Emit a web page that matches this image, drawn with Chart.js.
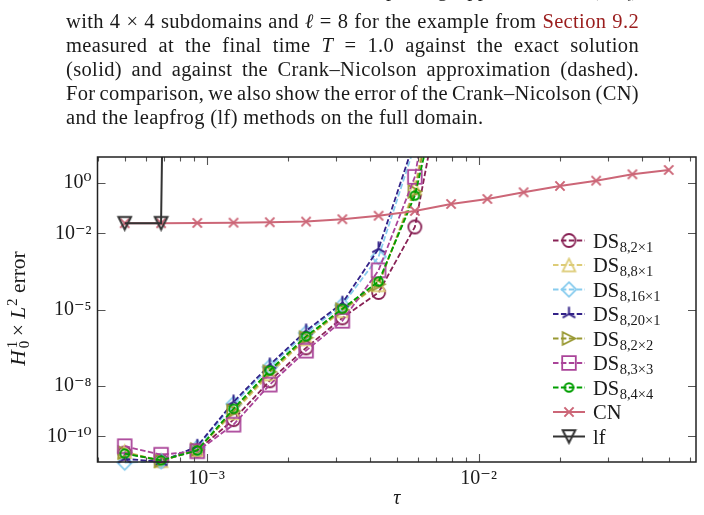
<!DOCTYPE html>
<html><head><meta charset="utf-8">
<script src="https://cdn.jsdelivr.net/npm/chart.js@4.4.1/dist/chart.umd.min.js"></script>
<style>
html,body{margin:0;padding:0;background:#fff;overflow:hidden;}
#wrap{position:relative;width:704px;height:515px;overflow:hidden;background:#fff;}
#c{position:absolute;left:0;top:0;}
#cap{position:absolute;left:66px;top:-23px;width:573px;font-family:"Liberation Serif","DejaVu Serif",serif;font-size:20.5px;letter-spacing:0.35px;line-height:24px;color:#1a1a1a;z-index:2;}
#cap div{white-space:nowrap;}
#cap .red{color:#9a1c1c;}
#cap i{font-style:italic;}
#cap span.ln{display:inline-block;}
</style>
</head><body>
<div id="wrap">
<canvas id="c" width="704" height="515"></canvas>
<div id="cap">
<div class="j"><span class="ln">FIGURE 4. Errors of the domain splitting approximation (DS<sub style="font-size:12px">ℓ</sub>)</span></div>
<div class="j"><span class="ln">with 4 × 4 subdomains and <i>ℓ</i> = 8 for the example from <span class="red">Section 9.2</span></span></div>
<div class="j"><span class="ln">measured at the final time <i>T</i> = 1.0 against the exact solution</span></div>
<div class="j"><span class="ln">(solid) and against the Crank–Nicolson approximation (dashed).</span></div>
<div class="j"><span class="ln">For comparison, we also show the error of the Crank–Nicolson (CN)</span></div>
<div><span class="ln">and the leapfrog (lf) methods on the full domain.</span></div>
</div>
</div>
<script>
// justify caption lines to the 573px text block
document.querySelectorAll('#cap div.j span.ln').forEach(sp => {
  const nat = sp.getBoundingClientRect().width;
  const spaces = (sp.textContent.match(/ /g) || []).length;
  if (spaces) sp.style.wordSpacing = ((573 - nat) / spaces) + 'px';
});

// ---------------- data ----------------
const tau = [5.00e-4, 6.80e-4, 9.24e-4, 1.256e-3, 1.707e-3, 2.321e-3, 3.155e-3, 4.288e-3,
             5.830e-3, 7.924e-3, 1.077e-2, 1.464e-2, 1.991e-2, 2.706e-2, 3.678e-2, 5.00e-2];

const ds_8_2x1  = [2.2e-11, 1.1e-11, 2.8e-11, 4.6e-10, 1.56e-8, 3.1e-7, 4.7e-6, 4.7e-5, 1.8e-2, 6e5];
const ds_8_8x1  = [2.5e-11, 1.1e-11, 3.0e-11, 8.5e-10, 2.9e-8, 7.0e-7, 8.9e-6, 9.4e-5, 0.62, 3e7];
const ds_8_16x1 = [9.3e-12, 1.05e-11, 3.6e-11, 1.9e-9, 5.5e-8, 1.2e-6, 1.5e-5, 1.2e-3, 30, 1e9];
const ds_8_20x1 = [1.3e-11, 1.0e-11, 4.1e-11, 2.3e-9, 6.6e-8, 1.45e-6, 1.8e-5, 2.5e-3, 50, 1e9];
const ds_8_2x2  = [2.3e-11, 1.1e-11, 3.0e-11, 1.0e-9, 3.5e-8, 7.7e-7, 9.8e-6, 1.0e-4, 0.45, 5e6];
const ds_8_3x3  = [4.1e-11, 1.9e-11, 2.6e-11, 2.9e-10, 1.1e-8, 2.4e-7, 3.6e-6, 3.5e-4, 1.7, 4e8];
const ds_8_4x4  = [2.1e-11, 1.14e-11, 2.8e-11, 1.23e-9, 4.0e-8, 8.8e-7, 1.07e-5, 1.27e-4, 0.31, 4e5];
const cn = [0.0252, 0.0252, 0.0259, 0.0265, 0.0276, 0.0292, 0.0363, 0.050,
            0.0769, 0.145, 0.228, 0.419, 0.741, 1.20, 2.14, 3.16];
const lf = [0.0252, 0.0252, 1e100];

const legendMain = ['DS','DS','DS','DS','DS','DS','DS','CN','lf'];
const legendSub  = ['8,2×1','8,8×1','8,16×1','8,20×1','8,2×2','8,3×3','8,4×4','',''];

const xTickValues = [1e-3, 1e-2];
const yTickValues = [1, 1e-2, 1e-5, 1e-8, 1e-10];
const X_MIN = 3.97e-4, X_MAX = 6.3e-2;
const Y_MIN = 9.8e-12, Y_MAX = 10.28;

// ---------------- styling helpers ----------------
const SERIF = '"Liberation Serif", "DejaVu Serif", serif';
const TXT = '#1a1a1a';

function marker(type, color, r, lw) {
  const s = Math.ceil(2 * r + lw + 2);
  const c = document.createElement('canvas');
  c.width = s; c.height = s;
  const g = c.getContext('2d');
  const m = s / 2;
  g.strokeStyle = color; g.lineWidth = lw; g.lineJoin = 'miter'; g.lineCap = 'butt';
  g.beginPath();
  switch (type) {
    case 'circle': g.arc(m, m, r, 0, 2 * Math.PI); break;
    case 'square': g.rect(m - r, m - r, 2 * r, 2 * r); break;
    case 'diamond': g.moveTo(m, m - r); g.lineTo(m + r, m); g.lineTo(m, m + r); g.lineTo(m - r, m); g.closePath(); break;
    case 'triUp': g.moveTo(m, m - r); g.lineTo(m + r, m + r); g.lineTo(m - r, m + r); g.closePath(); break;
    case 'triDown': g.moveTo(m, m + r); g.lineTo(m + r, m - r); g.lineTo(m - r, m - r); g.closePath(); break;
    case 'triRight': g.moveTo(m + r, m); g.lineTo(m - r, m - r); g.lineTo(m - r, m + r); g.closePath(); break;
    case 'tri2': g.moveTo(m, m); g.lineTo(m, m - r); g.moveTo(m, m); g.lineTo(m + 0.866 * r, m + 0.5 * r);
                 g.moveTo(m, m); g.lineTo(m - 0.866 * r, m + 0.5 * r); break;
    case 'x': g.moveTo(m - r, m - r); g.lineTo(m + r, m + r); g.moveTo(m + r, m - r); g.lineTo(m - r, m + r); break;
  }
  g.stroke();
  return c;
}

function pts(vals) { return vals.map((v, i) => ({ x: tau[i], y: v })); }

const DASH = [5.5, 2.4];
const CLIP = { left: 10, top: 0, right: 0, bottom: 10 };
function dsSet(label, vals, color, mk, order) {
  return {
    label, data: pts(vals), borderColor: color, backgroundColor: 'transparent',
    borderWidth: 1.8, borderDash: DASH, pointStyle: mk, pointRadius: 6, tension: 0,
    fill: false, order, clip: CLIP
  };
}

const datasets = [
  dsSet('DS8,2×1', ds_8_2x1, '#882255', marker('circle', '#882255', 6.5, 1.8), 8),
  dsSet('DS8,8×1', ds_8_8x1, '#DDCC77', marker('triUp', '#DDCC77', 6.3, 1.8), 7),
  dsSet('DS8,16×1', ds_8_16x1, '#88CCEE', marker('diamond', '#88CCEE', 7.3, 1.8), 6),
  dsSet('DS8,20×1', ds_8_20x1, '#332288', marker('tri2', '#332288', 7.3, 2), 5),
  dsSet('DS8,2×2', ds_8_2x2, '#999933', marker('triRight', '#999933', 6.3, 1.8), 4),
  dsSet('DS8,3×3', ds_8_3x3, '#AA4499', marker('square', '#AA4499', 6.8, 1.8), 3),
  dsSet('DS8,4×4', ds_8_4x4, '#009e00', marker('circle', '#009e00', 4.3, 2), 2),
  { label: 'CN', data: pts(cn), borderColor: '#CC6677', backgroundColor: 'transparent', borderWidth: 2,
    pointStyle: marker('x', '#CC6677', 4.6, 2), pointRadius: 5, tension: 0, fill: false, order: 1, clip: CLIP },
  { label: 'lf', data: pts(lf), borderColor: '#333333', backgroundColor: 'transparent', borderWidth: 2,
    pointStyle: marker('triDown', '#333333', 6.3, 2), pointRadius: 6, tension: 0, fill: false, order: 0, clip: CLIP }
];

const SUP = { '0': '⁰', '1': '¹', '2': '²', '3': '³', '4': '⁴', '5': '⁵', '6': '⁶', '7': '⁷', '8': '⁸', '9': '⁹', '-': '⁻' };
function pow10Label(v) {
  const e = Math.round(Math.log10(v));
  return '10' + String(e).split('').map(ch => SUP[ch]).join('');
}

// frame + inward ticks
const framePlugin = {
  id: 'frame',
  afterDatasetsDraw(chart) {
    const { ctx, chartArea: a, scales } = chart;
    ctx.save();
    ctx.strokeStyle = '#555'; ctx.lineWidth = 1.1;
    ctx.beginPath();
    for (let e = -4; e <= -1; e++) {
      for (let k = 1; k <= 9; k++) {
        const v = k * Math.pow(10, e);
        if (v < X_MIN || v > X_MAX) continue;
        const px = Math.round(scales.x.getPixelForValue(v)) + 0.5;
        const L = (k === 1) ? 8 : 4.5;
        ctx.moveTo(px, a.bottom); ctx.lineTo(px, a.bottom - L);
        ctx.moveTo(px, a.top); ctx.lineTo(px, a.top + L);
      }
    }
    yTickValues.forEach(v => {
      const py = Math.round(scales.y.getPixelForValue(v)) + 0.5;
      ctx.moveTo(a.left, py); ctx.lineTo(a.left + 8, py);
      ctx.moveTo(a.right, py); ctx.lineTo(a.right - 8, py);
    });
    ctx.stroke();
    ctx.strokeStyle = '#222'; ctx.lineWidth = 1.5;
    ctx.strokeRect(a.left, a.top, a.right - a.left, a.bottom - a.top);
    ctx.restore();
  }
};

const yTitlePlugin = {
  id: 'yTitle',
  afterDraw(chart) {
    const ctx = chart.ctx;
    const a = chart.chartArea;
    ctx.save();
    ctx.translate(24.5, (a.top + a.bottom) / 2 - 1);
    ctx.rotate(-Math.PI / 2);
    ctx.fillStyle = TXT;
    ctx.textBaseline = 'alphabetic';
    const big = '21.5px ' + SERIF, bigI = 'italic 21.5px ' + SERIF, small = '15px ' + SERIF;
    const parts = [
      { t: 'H', f: bigI, dy: 0, pad: 1 },
      { t: '1', f: small, dy: -8, stack: true, off: 1 },
      { t: '0', f: small, dy: 4.5, off: 1 },
      { t: ' × ', f: big, dy: 0 },
      { t: 'L', f: bigI, dy: 0, pad: 1 },
      { t: '2', f: small, dy: -8 },
      { t: ' error', f: big, dy: 0 }
    ];
    let W = 0;
    parts.forEach(p => { ctx.font = p.f; p.w = ctx.measureText(p.t).width + (p.pad || 0); if (!p.stack) W += p.w; });
    let x = -W / 2;
    parts.forEach(p => {
      ctx.font = p.f;
      ctx.fillText(p.t, x + (p.off || 0), p.dy);
      if (!p.stack) x += p.w;
    });
    ctx.restore();
  }
};

const legendPlugin = {
  id: 'customLegend',
  afterDraw(chart) {
    const ctx = chart.ctx;
    const x0 = 553, x1 = 585, xm = 569, xt = 593;
    const y0 = 240.5, dy = 24.5;
    chart.data.datasets.forEach((ds, i) => {
      const y = y0 + i * dy;
      ctx.save();
      ctx.strokeStyle = ds.borderColor; ctx.lineWidth = ds.borderWidth;
      ctx.setLineDash(ds.borderDash || []);
      ctx.beginPath(); ctx.moveTo(x0, y); ctx.lineTo(x1, y); ctx.stroke();
      ctx.setLineDash([]);
      const img = ds.pointStyle;
      ctx.drawImage(img, xm - img.width / 2, y - img.height / 2);
      ctx.fillStyle = TXT; ctx.textBaseline = 'alphabetic';
      ctx.font = '20.5px ' + SERIF;
      ctx.fillText(legendMain[i], xt, y + 7);
      if (legendSub[i]) {
        const w = ctx.measureText(legendMain[i]).width;
        ctx.font = '14.5px ' + SERIF;
        ctx.fillText(legendSub[i], xt + w + 0.5, y + 11);
      }
      ctx.restore();
    });
  }
};

new Chart(document.getElementById('c'), {
  type: 'line',
  data: { datasets },
  options: {
    responsive: false, animation: false, devicePixelRatio: 1, events: [],
    layout: { padding: { left: 0.5, top: 157, right: 8, bottom: 0 } },
    plugins: { legend: { display: false }, tooltip: { enabled: false } },
    scales: {
      x: {
        type: 'logarithmic', position: 'bottom', min: X_MIN, max: X_MAX,
        grid: { display: false, drawTicks: false }, border: { display: false },
        afterBuildTicks(s) { s.ticks = xTickValues.map(v => ({ value: v })); },
        afterFit(s) { s.height = 53; },
        ticks: { callback: v => pow10Label(v), font: { family: SERIF, size: 20 }, color: TXT, padding: 5, maxRotation: 0, autoSkip: false },
        title: { display: true, text: 'τ', font: { family: SERIF, size: 20, style: 'italic' }, color: TXT, padding: { top: 0, bottom: 4 } }
      },
      y: {
        type: 'logarithmic', position: 'left', min: Y_MIN, max: Y_MAX,
        grid: { display: false, drawTicks: false }, border: { display: false },
        afterBuildTicks(s) { s.ticks = yTickValues.map(v => ({ value: v })); },
        afterFit(s) { s.width = 97; },
        ticks: { callback: v => pow10Label(v), font: { family: SERIF, size: 20 }, color: TXT, padding: 6, autoSkip: false }
      }
    }
  },
  plugins: [framePlugin, yTitlePlugin, legendPlugin]
});
</script>
</body></html>
